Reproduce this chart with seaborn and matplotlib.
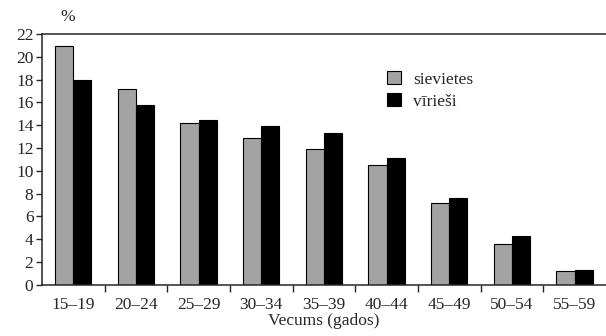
import matplotlib
import numpy as np
import pandas as pd
import seaborn as sns
from matplotlib import pyplot as plt

matplotlib.use("Agg")

# Age groups and shares (%)
age_groups = ["15–19", "20–24", "25–29", "30–34", "35–39", "40–44", "45–49", "50–54", "55–59"]
women = [20.9, 17.2, 14.2, 12.9, 11.9, 10.5, 7.2, 3.6, 1.2]
men = [18.0, 15.8, 14.5, 13.9, 13.3, 11.1, 7.6, 4.3, 1.3]
series_names = ["sievietes", "vīrieši"]
y_ticks = list(range(0, 23, 2))

df = pd.DataFrame({
    "vecums": age_groups * 2,
    "procenti": women + men,
    "dzimums": [series_names[0]] * len(women) + [series_names[1]] * len(men),
})

sns.set_style("ticks")
plt.rcParams["font.family"] = ["Liberation Serif", "DejaVu Serif"]

fig = plt.figure(figsize=(6.06, 3.36), dpi=100)
ax = fig.add_axes([0.069, 0.152, 0.931, 0.747])

sns.barplot(
    data=df, x="vecums", y="procenti", hue="dzimums",
    palette=["#a3a3a3", "#000000"], width=0.58, gap=0,
    edgecolor="black", linewidth=0.8, saturation=1, ax=ax,
)

ax.set_xlim(-0.5, len(age_groups) - 0.5)
ax.set_ylim(0, 22)
ax.set_yticks(y_ticks)
ax.tick_params(axis="y", labelsize=12.5, length=4, width=1, pad=2, direction="out")
ax.tick_params(axis="x", which="major", length=0, labelsize=12.5, pad=9)
ax.set_xticks(np.arange(0.5, len(age_groups) - 0.5, 1), minor=True)
ax.tick_params(axis="x", which="minor", length=5, width=1, direction="out")

ax.set_xlabel("Vecums (gados)", fontsize=12.5, labelpad=0)
ax.set_ylabel("")
ax.spines["right"].set_visible(False)
for side in ["left", "bottom", "top"]:
    ax.spines[side].set_linewidth(1.1)

fig.text(0.112, 0.95, "%", fontsize=12.5, ha="center", va="center")

leg = ax.legend(loc="upper left", bbox_to_anchor=(0.6, 0.88), frameon=False,
                fontsize=12.5, handlelength=0.8, handleheight=0.8,
                handletextpad=0.7, labelspacing=0.3, borderaxespad=0)

fig.savefig("out.png", dpi=100)
